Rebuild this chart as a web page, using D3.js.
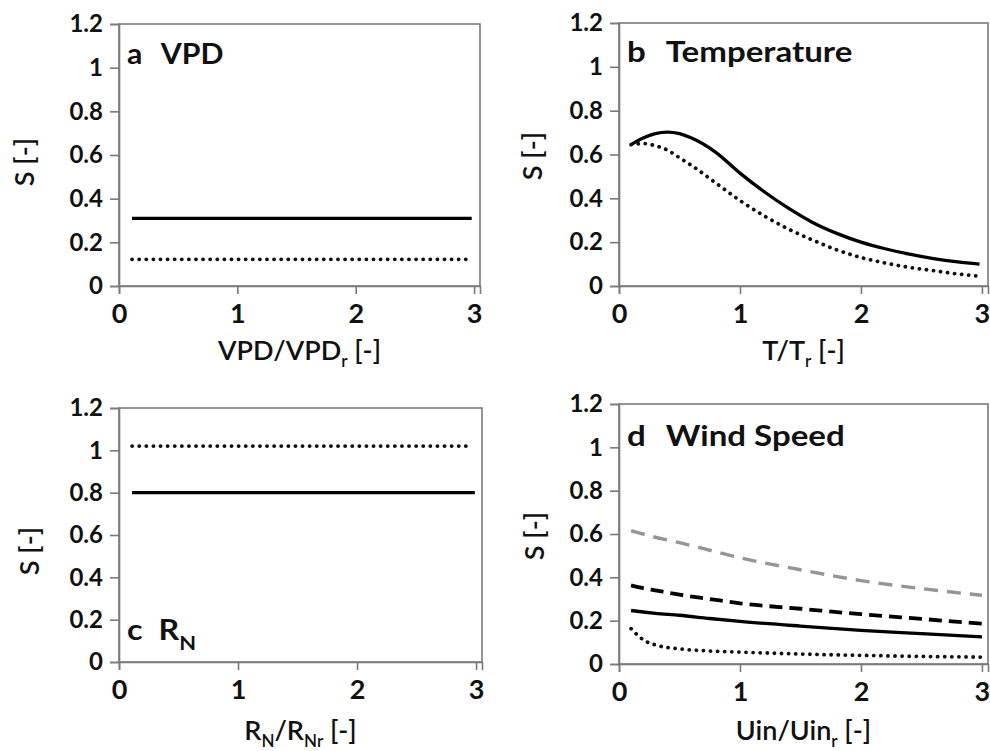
<!DOCTYPE html>
<html>
<head>
<meta charset="utf-8">
<script src="https://cdn.jsdelivr.net/npm/d3@7"></script>
<style>
  html, body { margin: 0; padding: 0; background: #fff; }
  svg { display: block; }
  text { font-family: Lato, "Open Sans", sans-serif; fill: #111; }
</style>
</head>
<body>
<svg id="chart" width="990" height="751"></svg>
<script>
// ---------- data ----------
const xTickValues = [0, 1, 2, 3];
const xTickLabels = ["0", "1", "2", "3"];
const yTickValues = [0, 0.2, 0.4, 0.6, 0.8, 1, 1.2];
const yTickLabels = ["0", "0.2", "0.4", "0.6", "0.8", "1", "1.2"];

// a VPD
const vpdX = [0.11, 2.98];
const vpdSolid = [0.31, 0.31];
const vpdDottedX = [0.11, 2.96];
const vpdDotted = [0.122, 0.122];

// b Temperature
const tempX = [0.1, 0.2, 0.3, 0.4, 0.5, 0.6, 0.8, 1.0, 1.2, 1.4, 1.6, 1.8, 2.0, 2.2, 2.4, 2.6, 2.8, 2.98];
const tempSolid = [0.645, 0.675, 0.695, 0.702, 0.695, 0.675, 0.61, 0.515, 0.43, 0.355, 0.29, 0.24, 0.20, 0.17, 0.145, 0.125, 0.11, 0.10];
const tempDotted = [0.645, 0.65, 0.64, 0.62, 0.585, 0.55, 0.47, 0.39, 0.32, 0.26, 0.21, 0.165, 0.13, 0.105, 0.085, 0.07, 0.055, 0.045];

// c R_N
const rnX = [0.11, 2.99];
const rnSolid = [0.8, 0.8];
const rnDottedX = [0.11, 2.96];
const rnDotted = [1.02, 1.02];

// d Wind speed
const windX = [0.1, 0.2, 0.3, 0.5, 0.75, 1.0, 1.5, 2.0, 2.5, 3.0];
const windGrayDashed = [0.615, 0.60, 0.585, 0.56, 0.525, 0.49, 0.435, 0.385, 0.348, 0.317];
const windDashed = [0.363, 0.35, 0.34, 0.32, 0.30, 0.28, 0.255, 0.23, 0.208, 0.186];
const windSolid = [0.247, 0.24, 0.234, 0.225, 0.21, 0.197, 0.175, 0.155, 0.14, 0.125];
const windDotted = [0.163, 0.112, 0.088, 0.07, 0.06, 0.055, 0.046, 0.04, 0.035, 0.032];

// ---------- styles ----------
const styles = {
  solid:  { stroke: "#000", width: 3.3, dash: null, cap: "butt" },
  dotted: { stroke: "#111", width: 3.8, dash: "0.1 7", cap: "round" },
  dashed: { stroke: "#000", width: 3.8, dash: "13 7", cap: "butt" },
  gray:   { stroke: "#959595", width: 3.4, dash: "14 9", cap: "butt" }
};

// parts: [text, isSub, dx]
const panels = [
  { box: {l: 119, r: 480, t: 24, b: 286},
    label: [["a", false, 0], ["VPD", false, 17]], labelY: 64, labelScale: 1.08,
    title: [["VPD/VPD", false], ["r", true], [" [-]", false]], titleY: 360,
    yTitle: [25, 162],
    series: [[vpdX, vpdSolid, "solid"], [vpdDottedX, vpdDotted, "dotted"]] },
  { box: {l: 619, r: 988, t: 23, b: 286},
    label: [["b", false, 0], ["Temperature", false, 17]], labelY: 62, labelScale: 1.18,
    title: [["T/T", false], ["r", true], [" [-]", false]], titleY: 360,
    yTitle: [533, 156],
    series: [[tempX, tempSolid, "solid"], [tempX, tempDotted, "dotted"]] },
  { box: {l: 119, r: 482, t: 408, b: 662},
    label: [["c", false, 0], ["R", false, 14], ["N", true, 0]], labelY: 640, labelScale: 1.15,
    title: [["R", false], ["N", true], ["/R", false], ["Nr", true], [" [-]", false]], titleY: 740,
    yTitle: [30, 551],
    series: [[rnX, rnSolid, "solid"], [rnDottedX, rnDotted, "dotted"]] },
  { box: {l: 619, r: 988, t: 404, b: 664},
    label: [["d", false, 0], ["Wind Speed", false, 17]], labelY: 446, labelScale: 1.18,
    title: [["Uin/Uin", false], ["r", true], [" [-]", false]], titleY: 740,
    yTitle: [535, 536],
    series: [[windX, windGrayDashed, "gray"], [windX, windDashed, "dashed"], [windX, windSolid, "solid"], [windX, windDotted, "dotted"]] }
];

const svg = d3.select("#chart");
const axisColor = "#7a7a7a";

function addRich(textSel, parts, subShift, subSize) {
  let cur = 0; // current baseline shift
  parts.forEach(([s, sub, dx]) => {
    const target = sub ? subShift : 0;
    const t = textSel.append("tspan").text(s)
      .attr("dy", target - cur);
    if (dx) t.attr("dx", dx);
    if (sub) t.attr("font-size", subSize);
    cur = target;
  });
}

panels.forEach(p => {
  const {l, r, t, b} = p.box;
  const x = d3.scaleLinear().domain([0, 3.05]).range([l, r]);
  const y = d3.scaleLinear().domain([0, 1.2]).range([b, t]);
  const g = svg.append("g");

  // frame
  g.append("rect").attr("x", l).attr("y", t).attr("width", r - l).attr("height", b - t)
    .attr("fill", "none").attr("stroke", axisColor).attr("stroke-width", 1.6);

  // axes
  const yAxis = g.append("g").attr("transform", `translate(${l},0)`)
    .call(d3.axisLeft(y).tickValues(yTickValues).tickSize(9).tickPadding(7)
      .tickFormat((d, i) => yTickLabels[i]));
  const xAxis = g.append("g").attr("transform", `translate(0,${b})`)
    .call(d3.axisBottom(x).tickValues(xTickValues).tickSize(8).tickPadding(10)
      .tickFormat((d, i) => xTickLabels[i]));
  [yAxis, xAxis].forEach(a => {
    a.select(".domain").attr("stroke", axisColor).attr("stroke-width", 1.6);
    a.selectAll(".tick line").attr("stroke", axisColor).attr("stroke-width", 1.6);
    a.selectAll(".tick text").attr("font-weight", "bold").attr("fill", "#111");
  });
  yAxis.selectAll(".tick text").attr("font-size", 24);
  xAxis.selectAll(".tick text").attr("font-size", 27);

  // series
  p.series.forEach(([xs, ys, type]) => {
    const st = styles[type];
    const data = xs.map((xv, i) => [xv, ys[i]]);
    g.append("path").datum(data)
      .attr("d", d3.line().x(d => x(d[0])).y(d => y(d[1])).curve(d3.curveMonotoneX))
      .attr("fill", "none").attr("stroke", st.stroke).attr("stroke-width", st.width)
      .attr("stroke-dasharray", st.dash).attr("stroke-linecap", st.cap)
      .attr("stroke-linejoin", "round");
  });

  // panel label
  const lab = g.append("text")
    .attr("transform", `translate(${l + 8},${p.labelY}) scale(${p.labelScale},1)`)
    .attr("font-size", 28).attr("font-weight", "bold");
  addRich(lab, p.label, 10, 19);

  // x title
  const xt = g.append("text").attr("x", (l + r) / 2).attr("y", p.titleY)
    .attr("text-anchor", "middle").attr("font-size", 27).attr("font-weight", 600);
  addRich(xt, p.title, 7, 17);

  // y title
  g.append("text")
    .attr("transform", `translate(${p.yTitle[0]},${p.yTitle[1]}) rotate(-90)`)
    .attr("text-anchor", "middle").attr("dy", "0.35em")
    .attr("font-size", 27).attr("font-weight", 600)
    .text("S [-]");
});
</script>
</body>
</html>
